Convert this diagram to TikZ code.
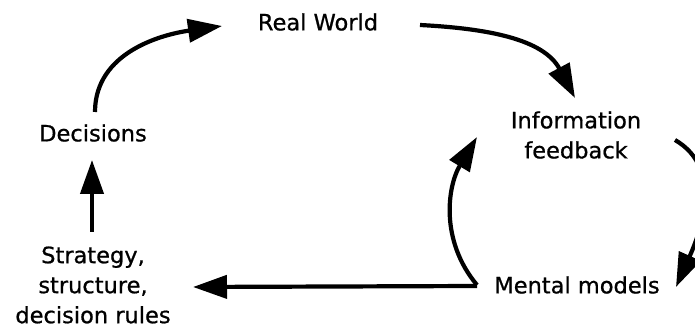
\documentclass[tikz,border=0pt]{standalone}
\usepackage{fontspec}
\setmainfont{DejaVu Sans}[FakeBold=0.8]
\usetikzlibrary{arrows.meta, calc}

\begin{document}
\begin{tikzpicture}[
        x=1pt, y=1pt,
        font=\fontsize{22.5}{30}\selectfont,
        % Define styles for the nodes
        concept/.style={align=center, inner sep=0pt},
        looparrow/.style={-{Triangle[length=34pt, width=23pt]}, line width=4.2pt}
    ]
        \useasboundingbox (0,0) rectangle (695,331);
        \clip (0,0) rectangle (695,331);

        % --- Nodes ---
        \node[concept] (world) at (318,309) {Real World};
        \node[concept] (decide) at (93,198) {Decisions};
        \node[concept] (info) at (576,196) {Information\\feedback};
        \node[concept] (mental) at (577,46) {Mental models};
        \node[concept] (rules) at (93,46) {Strategy,\\structure,\\decision rules};

        % --- Edges ---
        \draw[looparrow] ($(decide)+(2,21)$) to[out=90, in=188] ($(world)+(-96,-4)$);
        \draw[looparrow] ($(world)+(102,-3)$) to[out=-3, in=118] ($(info)+(-1,37)$);
        \draw[looparrow] ($(info)+(99,-5)$) to[out=-30, in=66] ($(mental)+(99,-2)$);
        \draw[looparrow] ($(mental)+(-100,0)$) to[out=130, in=239] ($(info)+(-99,-2)$);
        \draw[looparrow] ($(mental)+(-100,-1)$) -- ($(rules)+(100,-2)$);
        \draw[looparrow] ($(rules)+(-1,53)$) -- ($(decide)+(-1,-27)$);

    \end{tikzpicture}
\end{document}
